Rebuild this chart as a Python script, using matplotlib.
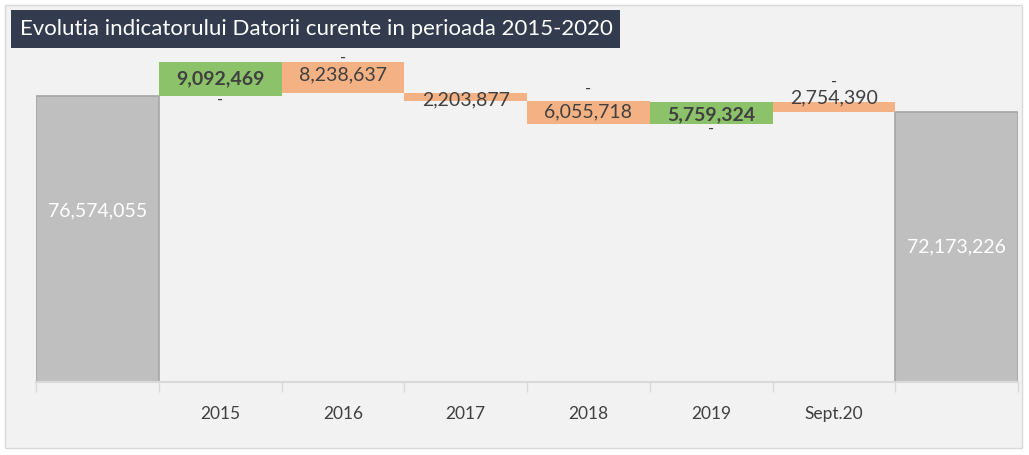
import numpy as np
import matplotlib
matplotlib.use("Agg")
import matplotlib.pyplot as plt
from matplotlib.patches import Rectangle

plt.rcParams['font.family'] = ['Lato', 'DejaVu Sans']

# data
categories = ["", "2015", "2016", "2017", "2018", "2019", "Sept.20", ""]
start_value = 76574055
changes = [9092469, -8238637, -2203877, -6055718, 5759324, -2754390]
end_value = 72173226

# label nudges in points for the change labels, and where the "-" marks sit
change_label_dy = [0, 2, -2, 0, -1, 7]
dash_pos = ["below", "above", None, "above", "below", "above"]
dash_dy = [3, -3, None, 3, 2, 9]

gray = "#bfbfbf"
green = "#8cc269"
orange = "#f4b183"
text_col = "#404040"

fig = plt.figure(figsize=(10.29, 4.55), dpi=100)
fig.patch.set_facecolor("white")

# panel background
fig.patches.append(Rectangle((5 / 1029, 1 - 448 / 455), 1017 / 1029, 443 / 455,
                             transform=fig.transFigure, facecolor="#f2f2f2",
                             edgecolor="#d9d9d9", linewidth=1, zorder=-10))
# title box
fig.patches.append(Rectangle((11 / 1029, 1 - 48 / 455), 609 / 1029, 38 / 455,
                             transform=fig.transFigure, facecolor="#323c4e",
                             edgecolor="none", zorder=-5))
fig.text(20 / 1029, 1 - 29 / 455, "Evolutia indicatorului Datorii curente in perioada 2015-2020",
         color="white", fontsize=16, va="center", ha="left")

ax = fig.add_axes([36 / 1029, 1 - 382 / 455, 982 / 1029, 327 / 455])
ax.set_facecolor("none")

x = np.arange(len(categories))
ax.bar(x[0], start_value, width=1.0, color=gray, edgecolor="#a6a6a6", linewidth=1.2)
ax.bar(x[-1], end_value, width=1.0, color=gray, edgecolor="#a6a6a6", linewidth=1.2)
ax.text(x[0], start_value * 0.6, f"{start_value:,}", color="white", fontsize=14,
        ha="center", va="center")
ax.text(x[-1], end_value * 0.5, f"{end_value:,}", color="white", fontsize=14,
        ha="center", va="center")

level = start_value
for i, ch in enumerate(changes):
    xi = x[i + 1]
    lo = min(level, level + ch)
    hi = max(level, level + ch)
    col = green if ch > 0 else orange
    ax.bar(xi, hi - lo, bottom=lo, width=1.0, color=col, edgecolor="none")
    ax.annotate(f"{abs(ch):,}", (xi, (lo + hi) / 2), xytext=(0, change_label_dy[i]),
                textcoords="offset points", ha="center", va="center", fontsize=14,
                color=text_col, fontweight="bold" if ch > 0 else "normal")
    if dash_pos[i] is not None:
        yref = hi if dash_pos[i] == "above" else lo
        ax.annotate("-", (xi, yref), xytext=(0, dash_dy[i]), textcoords="offset points",
                    ha="center", va="bottom" if dash_pos[i] == "above" else "top",
                    fontsize=12, color=text_col)
    level += ch

ax.set_xlim(-0.5, len(categories) - 0.5)
ax.set_ylim(0, 87.55e6)
ax.set_xticks(x)
ax.set_xticklabels(categories, fontsize=12.5, color=text_col)
ax.set_xticks(np.arange(-0.5, len(categories)), minor=True)
ax.tick_params(axis="x", which="major", length=0, pad=17)
ax.tick_params(axis="x", which="minor", length=7, color="#d9d9d9", width=1)
ax.set_yticks([])
for s in ["top", "right", "left"]:
    ax.spines[s].set_visible(False)
ax.spines["bottom"].set_color("#d9d9d9")
ax.spines["bottom"].set_linewidth(1.5)

fig.savefig("out.png", dpi=100)
